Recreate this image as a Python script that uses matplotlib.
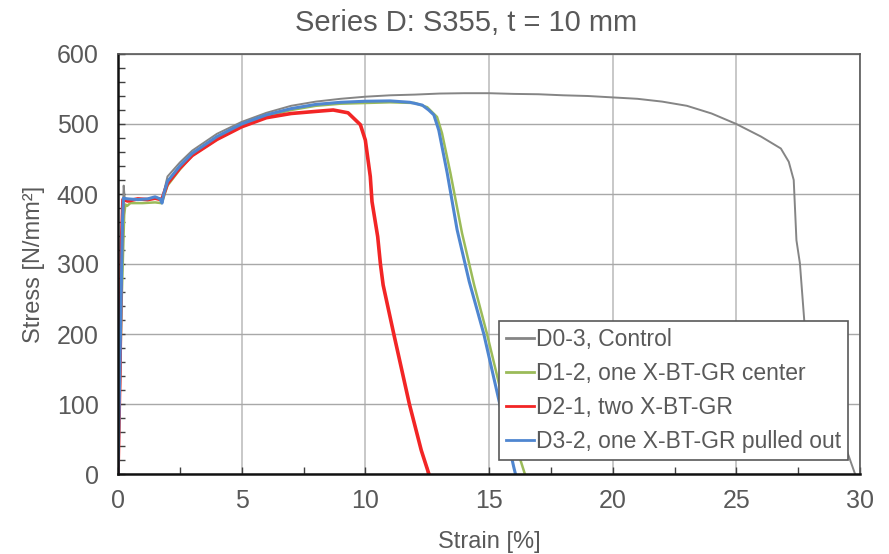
import matplotlib
matplotlib.use("Agg")
import matplotlib.pyplot as plt
from matplotlib.ticker import MultipleLocator

plt.rcParams['font.family'] = ['Liberation Sans', 'DejaVu Sans']

# D0-3, Control
d0_strain = [0, 0.12, 0.2, 0.23, 0.28, 0.4, 0.8, 1.2, 1.5, 1.75, 1.8, 2.0, 2.5, 3, 4, 5, 6, 7, 8, 9,
             10, 11, 12, 13, 14, 15, 16, 17, 18, 19, 20, 21, 22, 23, 24, 25, 26, 26.8, 27.12, 27.32,
             27.43, 27.57, 27.76, 28.3, 28.9, 29.4, 29.6, 29.8]
d0_stress = [0, 250, 380, 412, 390, 393, 392, 393, 395, 392, 395, 425, 445, 462, 486, 503, 516, 526, 532, 536,
             539, 541, 542, 543.5, 544, 544, 543, 542.5, 541, 540, 538, 536, 532, 526, 515, 500, 482, 465, 446, 420,
             334, 301, 213, 150, 90, 40, 20, 0]

# D1-2, one X-BT-GR center
d1_strain = [0, 0.15, 0.25, 0.3, 0.37, 0.5, 1.0, 1.5, 1.75, 1.8, 2.0, 2.5, 3, 4, 5, 6, 7, 8, 9, 10, 11, 12,
             12.5, 12.9, 13.1, 13.44, 13.91, 14.4, 14.92, 15.5, 16.0, 16.45]
d1_stress = [0, 250, 370, 385, 383, 387, 387, 388, 387, 390, 412, 435, 455, 478, 497, 511, 520, 526, 529, 530, 531, 530,
             524, 510, 487, 430, 344, 270, 200, 115, 50, 0]

# D2-1, two X-BT-GR
d2_strain = [0, 0.08, 0.14, 0.2, 0.4, 0.8, 1.2, 1.5, 1.75, 1.8, 2.0, 2.5, 3, 4, 5, 6, 7, 8, 8.7, 9.3, 9.8,
             10.0, 10.2, 10.27, 10.5, 10.61, 10.72, 11.15, 11.78, 12.26, 12.57]
d2_stress = [0, 150, 330, 392, 390, 393, 392, 394, 392, 395, 415, 437, 455, 478, 496, 509, 515, 518, 520, 516, 499,
             477, 425, 389, 339, 300, 270, 200, 100, 34, 0]

# D3-2, one X-BT-GR pulled out
d3_strain = [0, 0.1, 0.18, 0.22, 0.4, 0.8, 1.2, 1.5, 1.7, 1.78, 1.85, 2.0, 2.5, 3, 4, 5, 6, 7, 8, 9, 10, 11,
             11.8, 12.3, 12.56, 12.77, 12.97, 13.31, 13.71, 14.2, 14.79, 15.5, 16.0, 16.07]
d3_stress = [0, 200, 360, 394, 393, 392, 393, 396, 393, 387, 400, 418, 440, 458, 482, 500, 513, 522, 528, 531, 532.5, 533,
             531, 527, 520, 513, 491, 430, 349, 275, 200, 90, 10, 0]

text_color = '#595959'

fig = plt.figure(figsize=(8.89, 5.54), dpi=100)
ax = fig.add_axes([118 / 889, 1 - 474 / 554, 742 / 889, 420 / 554])

ax.plot(d0_strain, d0_stress, color='#858585', lw=1.4, label='D0-3, Control')
ax.plot(d1_strain, d1_stress, color='#9BBB59', lw=1.8, label='D1-2, one X-BT-GR center')
ax.plot(d2_strain, d2_stress, color='#F22525', lw=2.6, label='D2-1, two X-BT-GR')
ax.plot(d3_strain, d3_stress, color='#4F86D0', lw=2.2, label='D3-2, one X-BT-GR pulled out')

ax.set_xlim(0, 30)
ax.set_ylim(0, 600)
ax.xaxis.set_major_locator(MultipleLocator(5))
ax.xaxis.set_minor_locator(MultipleLocator(2.5))
ax.yaxis.set_major_locator(MultipleLocator(100))
ax.yaxis.set_minor_locator(MultipleLocator(20))

ax.grid(True, which='major', axis='y', color='#a8a8a8', lw=1.0)
ax.grid(True, which='major', axis='x', color='#c4c4c4', lw=1.3)
ax.set_axisbelow(True)

ax.tick_params(which='both', direction='in', length=5, width=1, color='#404040',
               labelsize=18, labelcolor=text_color)
ax.tick_params(axis='y', pad=14)
ax.tick_params(axis='x', pad=11)

for side in ['left', 'bottom']:
    ax.spines[side].set_color('#111111')
    ax.spines[side].set_linewidth(1.8)
for side in ['top', 'right']:
    ax.spines[side].set_color('#595959')
    ax.spines[side].set_linewidth(1.2)

ax.set_xlabel('Strain [%]', fontsize=17, color=text_color, labelpad=13)
ax.set_ylabel('Stress [N/mm²]', fontsize=17, color=text_color, labelpad=8)

fig.text(466 / 889, 1 - 23 / 554, 'Series D: S355, t = 10 mm', fontsize=21, color=text_color,
         ha='center', va='center')

leg = ax.legend(loc='lower right', bbox_to_anchor=(0.984, 0.033), borderaxespad=0,
                fontsize=16.5, frameon=True, fancybox=False, framealpha=1,
                edgecolor='#595959', handlelength=1.2, handletextpad=0.1,
                labelspacing=0.48, borderpad=0.3)
leg.get_frame().set_linewidth(1.2)
for t in leg.get_texts():
    t.set_color(text_color)
for h in leg.get_lines():
    h.set_linewidth(2.0)

fig.savefig('out.png', dpi=100)
